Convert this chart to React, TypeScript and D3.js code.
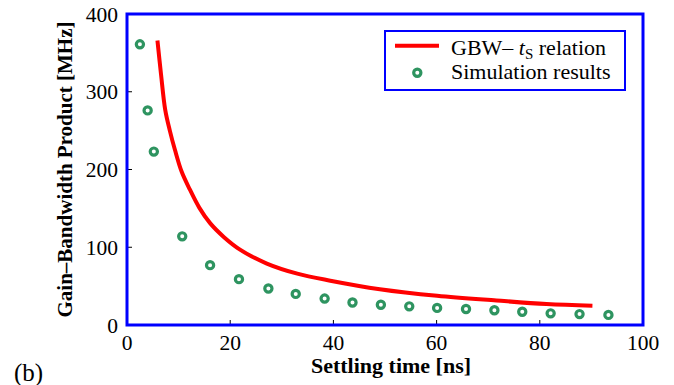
import React from "react";
import * as d3 from "d3";

// simulation points
const simTime = [2.5, 4.0, 5.2, 10.7, 16.1, 21.7, 27.4, 32.7, 38.3, 43.7, 49.2, 54.7, 60.1, 65.7, 71.2, 76.6, 82.1, 87.7, 93.3];
const simGbw = [361, 276, 223, 114, 77, 59, 47, 40, 34, 29, 26, 24, 22, 20.6, 19, 17, 15, 14, 13];

// GBW - tS relation curve
const curveTime = [5.9, 6.6, 7.4, 8.3, 9.3, 10.6, 12.2, 14, 16.1, 18.8, 21.9, 27.1, 33, 39.4, 49, 60.1, 71.6, 81.3, 90.2];
const curveGbw = [366, 322, 277, 250, 225, 197, 174, 151, 131, 113, 97, 79, 66, 57, 46, 37.5, 31.5, 27, 24.8];

const xTicks = [0, 20, 40, 60, 80, 100];
const yTicks = [0, 100, 200, 300, 400];

const W = 674;
const H = 385;
const margin = { top: 14, right: 31, bottom: 60, left: 127 };
const font = "Liberation Serif";

const App = () => {
    const x = d3.scaleLinear().domain([0, 100]).range([margin.left, W - margin.right]);
    const y = d3.scaleLinear().domain([0, 400]).range([H - margin.bottom, margin.top]);

    const line = d3.line<number>()
        .x((d, i) => x(curveTime[i]))
        .y((d) => y(d))
        .curve(d3.curveCatmullRom);

    const x0 = x(0), x1 = x(100), y0 = y(0), y1 = y(400);
    const txt = { fontFamily: font };

    return (
        <svg width={W} height={H} style={{ position: "absolute", left: 0, top: 0, background: "#fff" }}>
            {/* curve */}
            <path d={line(curveGbw) || ""} fill="none" stroke="#ff0000" strokeWidth={4} />

            {/* simulation results */}
            {simTime.map((t, i) => (
                <circle key={i} cx={x(t)} cy={y(simGbw[i])} r={3.6} fill="none" stroke="#2e9460" strokeWidth={3.2} />
            ))}

            {/* ticks inside the frame */}
            {xTicks.slice(1, -1).map((t) => (
                <line key={"xt" + t} x1={x(t)} x2={x(t)} y1={y0} y2={y0 - 5} stroke="#000" strokeWidth={1} />
            ))}
            {yTicks.slice(1, -1).map((t) => (
                <line key={"yt" + t} x1={x0} x2={x0 + 5} y1={y(t)} y2={y(t)} stroke="#000" strokeWidth={1} />
            ))}

            {/* frame */}
            <rect x={x0} y={y1} width={x1 - x0} height={y0 - y1} fill="none" stroke="#0000ff" strokeWidth={3} />

            {/* tick labels */}
            {xTicks.map((t) => (
                <text key={"xl" + t} x={x(t)} y={y0 + 24.5} textAnchor="middle" fontSize={21.5} fill="#000" style={txt}>{t}</text>
            ))}
            {yTicks.map((t) => (
                <text key={"yl" + t} x={x0 - 9} y={y(t) + 7.5} textAnchor="end" fontSize={21.5} fill="#000" style={txt}>{t}</text>
            ))}

            {/* axis titles */}
            <text x={391} y={373} textAnchor="middle" fontSize={22} fontWeight="bold" fill="#000" style={txt}>Settling time [ns]</text>
            <text transform={`translate(72,${(y0 + y1) / 2}) rotate(-90)`} textAnchor="middle" fontSize={21} fontWeight="bold" fill="#000" style={txt}>
                Gain–Bandwidth Product [MHz]
            </text>
            <text x={14} y={381} fontSize={25} fill="#000" style={txt}>(b)</text>

            {/* legend */}
            <rect x={385} y={31} width={240} height={59} fill="#fff" stroke="#0000ff" strokeWidth={2} />
            <line x1={395} x2={439} y1={45.7} y2={45.7} stroke="#ff0000" strokeWidth={4} />
            <text x={451} y={54.5} fontSize={22} fill="#000" style={txt}>
                GBW– <tspan fontStyle="italic">t</tspan>
                <tspan fontSize={15} dy={4}>S</tspan>
                <tspan dy={-4}> relation</tspan>
            </text>
            <circle cx={417.3} cy={72.7} r={3.6} fill="none" stroke="#2e9460" strokeWidth={3.2} />
            <text x={451} y={79} fontSize={22} fill="#000" style={txt}>Simulation results</text>
        </svg>
    );
};

export default App;
